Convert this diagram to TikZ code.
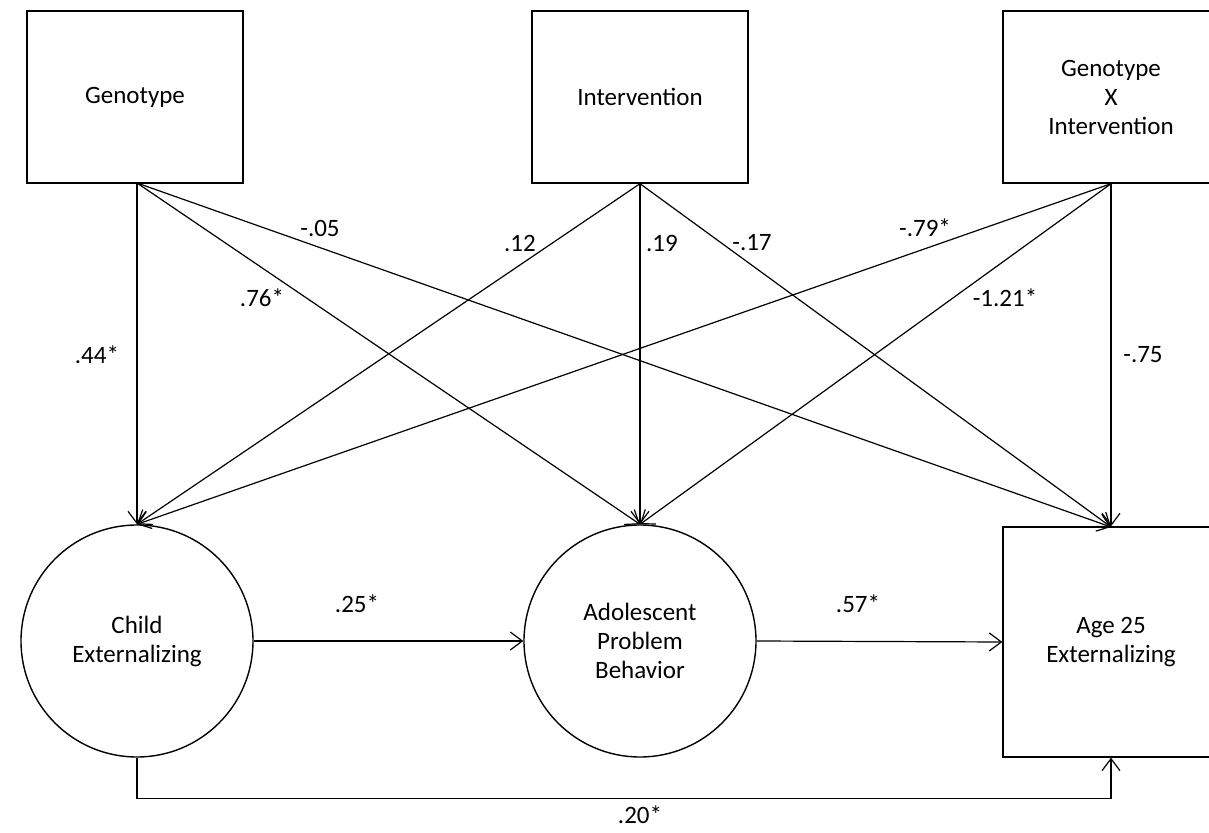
\documentclass[tikz,border=0pt]{standalone}
\usepackage{fontspec}
\setmainfont{Carlito}
\usetikzlibrary{positioning,arrows.meta,calc}

\begin{document}
\begin{tikzpicture}[
  x=0.5pt, y=-0.5pt,
  font=\fontsize{12.5}{14.5}\selectfont,
  box/.style={draw, line width=0.7pt, align=center, inner sep=0pt},
  blob/.style={draw, circle, line width=0.7pt, align=center, inner sep=0pt, minimum size=116pt},
  arr/.style={-{Straight Barb[length=6pt,width=9pt]}, line width=0.6pt},
  lab/.style={inner sep=1pt}
]
\useasboundingbox (0,0) rectangle (1209,833);

% nodes
\node[box, minimum width=108pt, minimum height=86pt] (geno) at (135,97) {Genotype};
\node[box, minimum width=108pt, minimum height=86pt] (interv) at (640,97) {Intervention};
\node[box, minimum width=108pt, minimum height=86pt] (gxi) at (1111,97) {Genotype\\X\\Intervention};
\node[blob] (child) at (137,641) {Child\\Externalizing};
\node[blob] (adol) at (640,641) {Adolescent\\Problem\\Behavior};
\node[box, minimum width=108pt, minimum height=115pt] (age) at (1111,642) {Age 25\\Externalizing};

% arrows
\draw[arr] (137,183) -- (child.north);
\draw[arr] (137,183) -- (adol.north);
\draw[arr] (137,183) -- (1111,527);
\draw[arr] (interv.south) -- (child.north);
\draw[arr] (interv.south) -- (adol.north);
\draw[arr] (interv.south) -- (1111,527);
\draw[arr] (gxi.south) -- (child.north);
\draw[arr] (gxi.south) -- (adol.north);
\draw[arr] (gxi.south) -- (age.north);
\draw[arr] (child.east) -- (adol.west);
\draw[arr] (adol.east) -- (age.west);
\draw[arr] (child.south) -- ($(child.south)+(0,41)$) -| (age.south);

% labels
\node[lab] (l1) at (97,355) {.44*};
\node[lab] (l2) at (262,298) {.76*};
\node[lab] (l3) at (320,228) {-.05};
\node[lab] (l4) at (520,243) {.12};
\node[lab] (l5) at (662,243) {.19};
\node[lab] (l6) at (752,243) {-.17};
\node[lab] (l7) at (925,228) {-.79*};
\node[lab] (l8) at (1005,298) {-1.21*};
\node[lab] (l9) at (1143,355) {-.75};
\node[lab] (l10) at (357,604) {.25*};
\node[lab] (l11) at (858,604) {.57*};
\node[lab] (l12) at (640,815) {.20*};

\end{tikzpicture}
\end{document}
